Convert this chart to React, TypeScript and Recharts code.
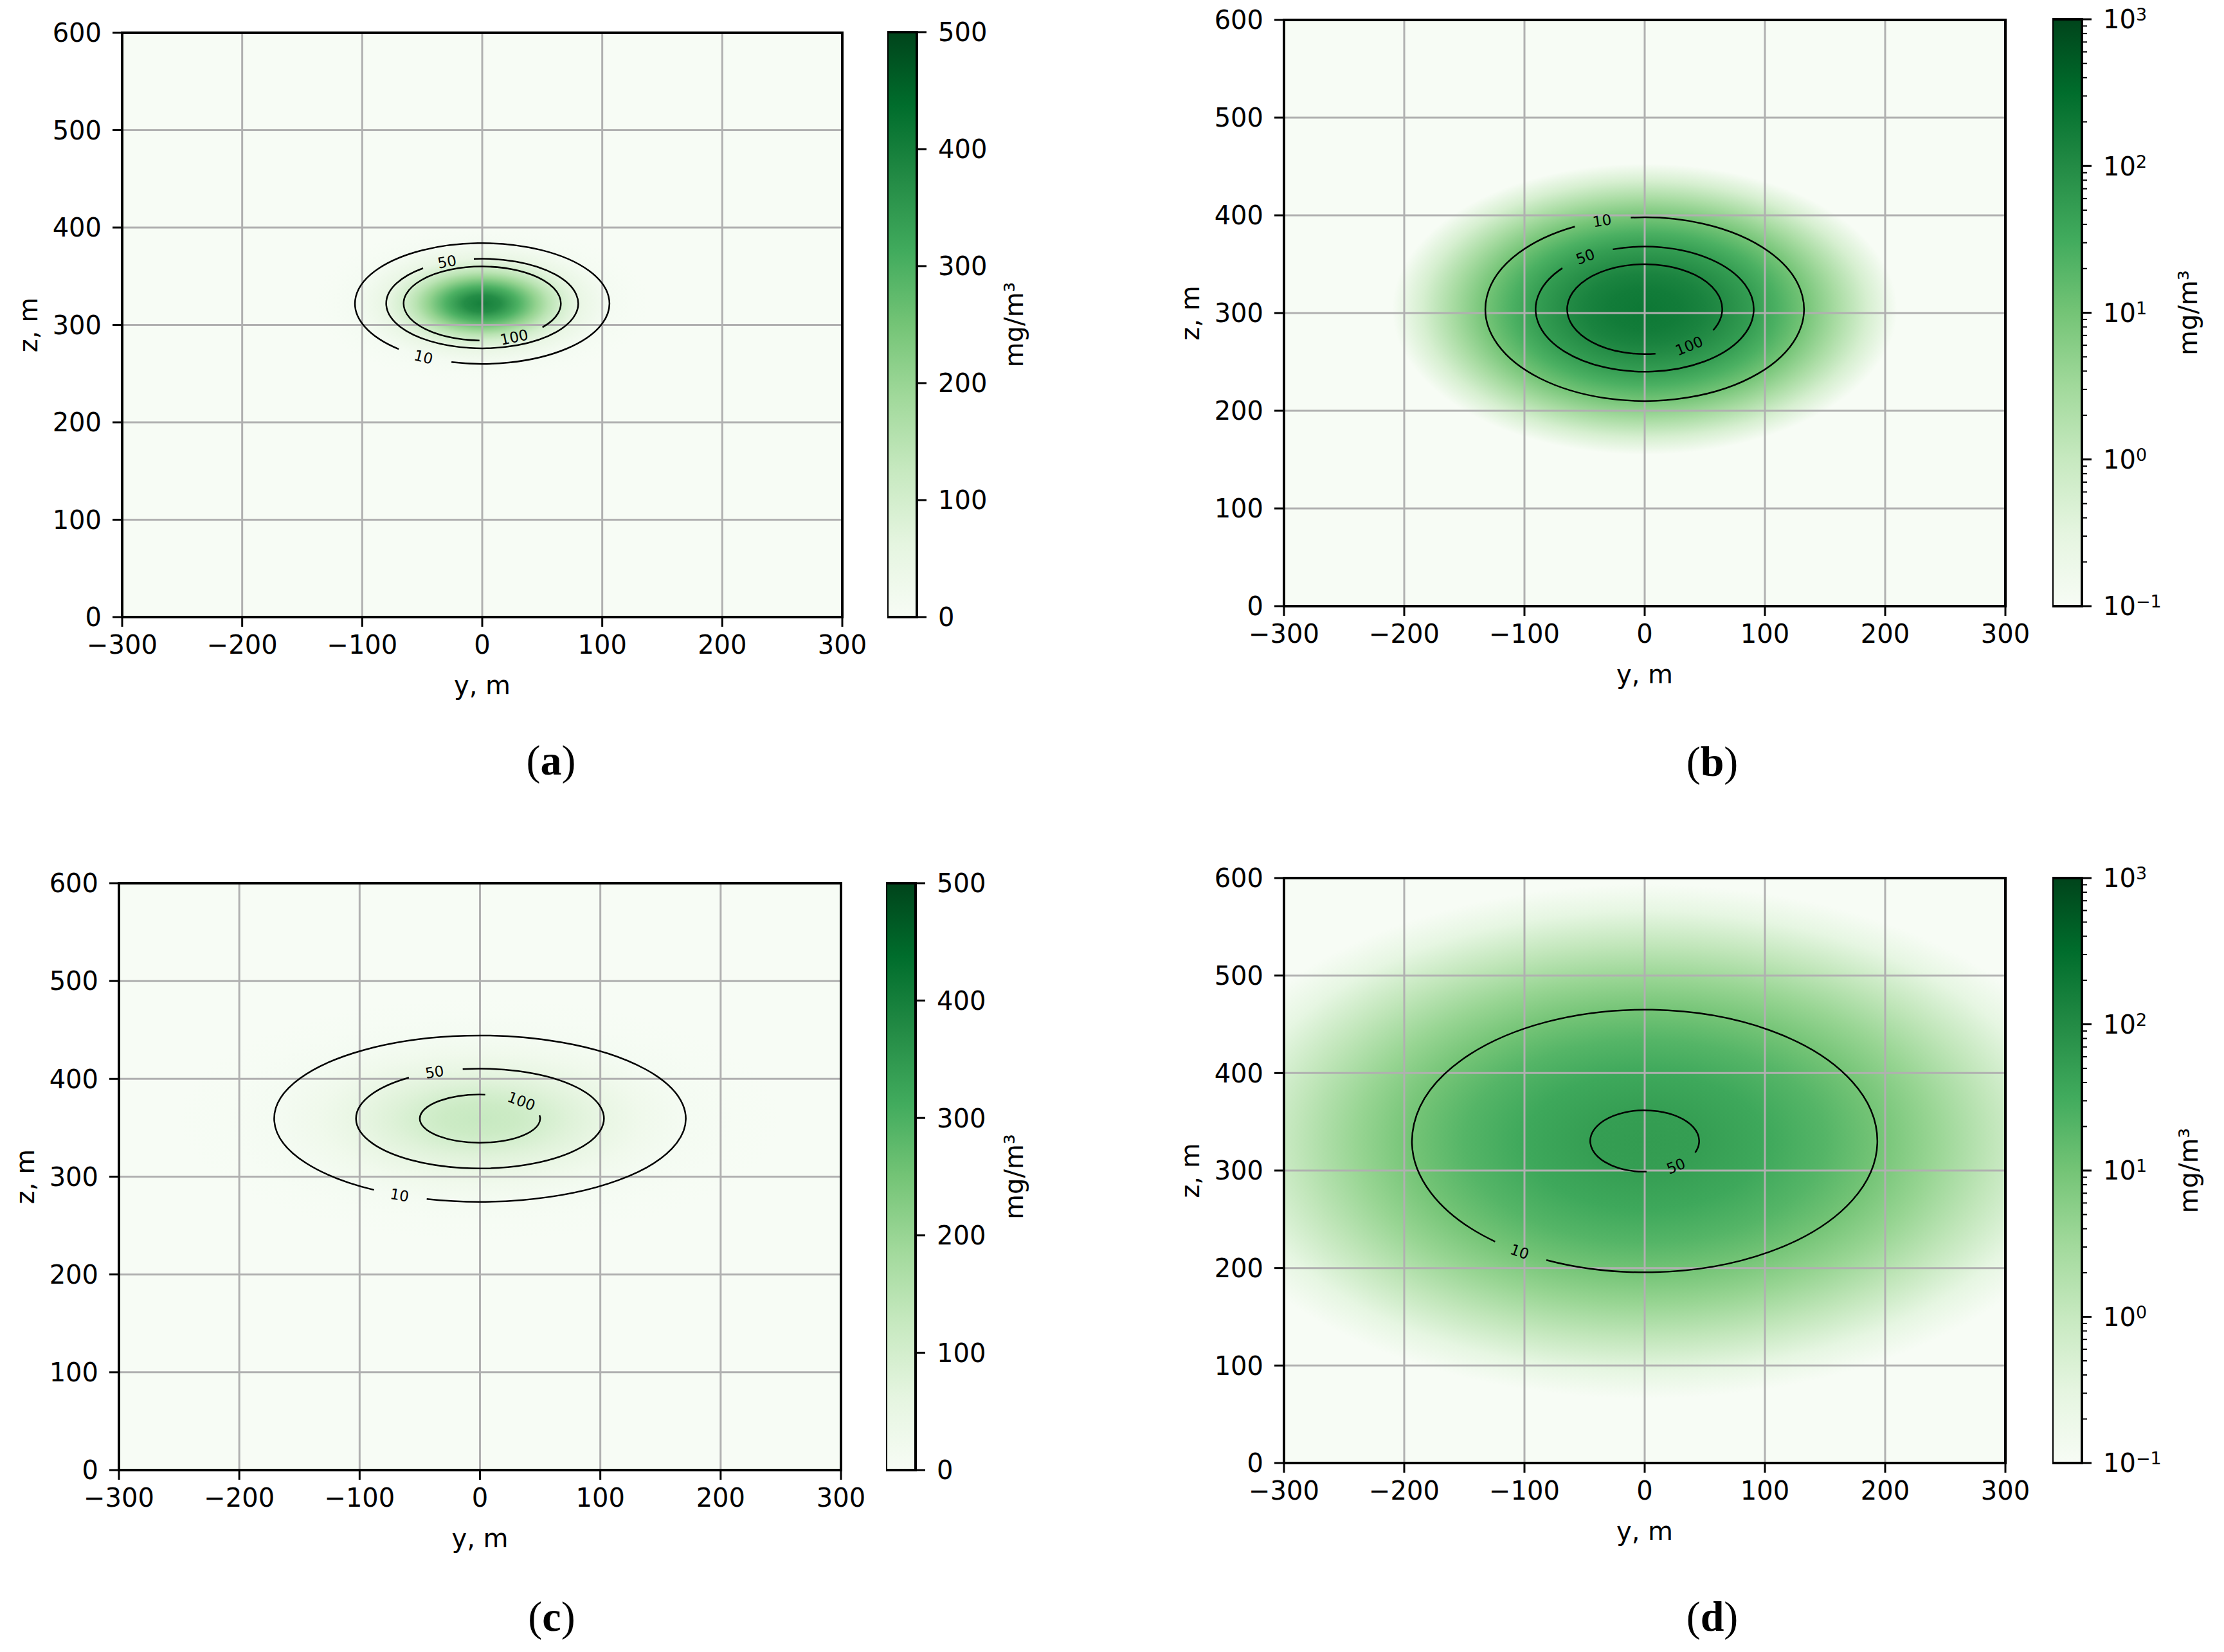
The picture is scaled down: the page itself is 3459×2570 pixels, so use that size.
import React from 'react';
import { ScatterChart, Scatter, XAxis, YAxis, ReferenceArea, ReferenceLine } from 'recharts';

// ---------- axis ticks ----------
const Y_TICKS = [-300, -200, -100, 0, 100, 200, 300];
const Z_TICKS = [0, 100, 200, 300, 400, 500, 600];
const LIN_TICKS = [0, 100, 200, 300, 400, 500];
const LOG_MAJOR = [0.1, 1, 10, 100, 1000];
const LOG_MINOR = [0.2, 0.3, 0.4, 0.5, 0.6, 0.7, 0.8, 0.9, 2, 3, 4, 5, 6, 7, 8, 9, 20, 30, 40, 50, 60, 70, 80, 90, 200, 300, 400, 500, 600, 700, 800, 900];
const LIN_RANGE = [0, 500];
const LOG_RANGE = [0.1, 1000];

// ---------- panel (a) ----------
const plumeA = { y: 0, z: 322, aspect: 1.72 };
const profileA = [
  { r: 0, c: 400 }, { r: 15, c: 372 }, { r: 30, c: 298 }, { r: 45, c: 206 }, { r: 55, c: 148 },
  { r: 65, c: 100 }, { r: 80, c: 50 }, { r: 106, c: 10 }, { r: 125, c: 2.4 }, { r: 140, c: 0.6 }, { r: 160, c: 0 },
];
const contoursA = [
  { level: 10, y: 0, z: 322, ay: 106, az: 62, gap: [104, 131] },
  { level: 50, y: 0, z: 322, ay: 80, az: 46, gap: [232, 265] },
  { level: 100, y: 0, z: 322, ay: 65.5, az: 38, gap: [40, 92] },
];

// ---------- panel (b) ----------
const plumeB = { y: 0, z: 304, aspect: 1.41 };
const profileB = [
  { r: 0, c: 205 }, { r: 30, c: 176 }, { r: 50, c: 134 }, { r: 64.5, c: 100 }, { r: 90.7, c: 50 },
  { r: 110, c: 25 }, { r: 132.5, c: 10 }, { r: 160, c: 2.5 }, { r: 185, c: 0.57 }, { r: 210, c: 0.1 }, { r: 260, c: 0 },
];
const contoursB = [
  { level: 10, y: 0, z: 304, ay: 132.5, az: 94, gap: [244, 265] },
  { level: 50, y: 0, z: 304, ay: 90.7, az: 64, gap: [221, 253] },
  { level: 100, y: 0, z: 304, ay: 64.5, az: 46, gap: [28, 82] },
];

// ---------- panel (c) ----------
const plumeC = { y: 0, z: 359, aspect: 2.02 };
const profileC = [
  { r: 0, c: 124 }, { r: 30, c: 115 }, { r: 50, c: 100 }, { r: 75, c: 76 }, { r: 103, c: 50 },
  { r: 135, c: 26 }, { r: 171, c: 10 }, { r: 210, c: 2.8 }, { r: 250, c: 0.6 }, { r: 300, c: 0 },
];
const contoursC = [
  { level: 10, y: 0, z: 359.3, ay: 171, az: 85, gap: [105, 121] },
  { level: 50, y: 0, z: 359.4, ay: 103, az: 51, gap: [235, 262] },
  { level: 100, y: 0, z: 359.3, ay: 50, az: 24.6, gap: [275, 352] },
];

// ---------- panel (d) ----------
const plumeD = { y: 0, z: 330, aspect: 1.44 };
const profileD = [
  { r: 0, c: 55 }, { r: 45.3, c: 50 }, { r: 100, c: 35 }, { r: 150, c: 20 }, { r: 193.5, c: 10 },
  { r: 240, c: 4 }, { r: 290, c: 1.2 }, { r: 340, c: 0.29 }, { r: 380, c: 0.08 }, { r: 420, c: 0 },
];
const contoursD = [
  { level: 10, y: 0, z: 330.3, ay: 193.5, az: 134.7, gap: [115, 130] },
  { level: 50, y: 0, z: 330.3, ay: 45.3, az: 31.5, gap: [22, 88] },
];

// ---------- colormap (matplotlib Greens) ----------
const GREENS = ['#f7fcf5', '#e5f5e0', '#c7e9c0', '#a1d99b', '#74c476', '#41ab5d', '#238b45', '#006d2c', '#00441b'];
const hexRgb = (h: string) => [parseInt(h.slice(1, 3), 16), parseInt(h.slice(3, 5), 16), parseInt(h.slice(5, 7), 16)];
function greens(t: number) {
  const tt = Math.max(0, Math.min(1, t));
  const p = tt * (GREENS.length - 1);
  const i = Math.min(Math.floor(p), GREENS.length - 2);
  const f = p - i;
  const a = hexRgb(GREENS[i]);
  const b = hexRgb(GREENS[i + 1]);
  const m = a.map((v, k) => Math.round(v + (b[k] - v) * f));
  return `rgb(${m[0]},${m[1]},${m[2]})`;
}

const FONT = 'DejaVu Sans';
const minus = (v: number) => (v < 0 ? `\u2212${Math.abs(v)}` : `${v}`);

function BgShape(props: any) {
  const { x, y, width, height, cid } = props;
  return (
    <g>
      <defs>
        <clipPath id={cid}>
          <rect x={x} y={y} width={width} height={height} />
        </clipPath>
      </defs>
      <rect x={x} y={y} width={width} height={height} fill={GREENS[0]} />
    </g>
  );
}

function HeatShape(props: any) {
  const { x, y, width, height, gid, cid, stops } = props;
  return (
    <g clipPath={`url(#${cid})`}>
      <defs>
        <radialGradient id={gid} cx="50%" cy="50%" r="50%">
          {stops.map((s: any, i: number) => (
            <stop key={i} offset={s.off} stopColor={s.color} />
          ))}
        </radialGradient>
      </defs>
      <ellipse cx={x + width / 2} cy={y + height / 2} rx={Math.abs(width) / 2} ry={Math.abs(height) / 2} fill={`url(#${gid})`} />
    </g>
  );
}

function ContourShape(props: any) {
  const { x, y, width, height, c } = props;
  const cx = x + width / 2;
  const cy = y + height / 2;
  const rx = Math.abs(width) / 2;
  const ry = Math.abs(height) / 2;
  const rad = (d: number) => (d * Math.PI) / 180;
  const pt = (t: number) => [cx + rx * Math.cos(rad(t)), cy + ry * Math.sin(rad(t))];
  const [g1, g2] = c.gap;
  const [sx, sy] = pt(g2);
  const [ex, ey] = pt(g1);
  const d = `M${sx},${sy} A${rx},${ry} 0 1 1 ${ex},${ey}`;
  const tm = (g1 + g2) / 2;
  const [lx, ly] = pt(tm);
  let ang = (Math.atan2(ry * Math.cos(rad(tm)), -rx * Math.sin(rad(tm))) * 180) / Math.PI;
  if (ang > 90) ang -= 180;
  if (ang < -90) ang += 180;
  return (
    <g>
      <path d={d} fill="none" stroke="#000" strokeWidth={2.5} />
      <text x={lx} y={ly} transform={`rotate(${ang} ${lx} ${ly})`} textAnchor="middle" dominantBaseline="central" fontSize={23} fill="#000" fontFamily={FONT}>
        {c.level}
      </text>
    </g>
  );
}

function Plot(props: any) {
  const { id, L, T, W, H, plume, profile, contours, norm } = props;
  const rMax = profile[profile.length - 1].r;
  const colorOf = (c: number) =>
    greens(norm === 'log' ? (c <= 0.1 ? 0 : (Math.log10(c) + 1) / 4) : c / 500);
  const stops = profile.map((p: any) => ({ off: p.r / rMax, color: colorOf(p.c) }));
  const ML = 190, MT = 40, MR = 60, XH = 140;
  const tickStyle = { fontSize: 40, fill: '#000', fontFamily: FONT };
  const cid = `clip-${id}`;
  return (
    <div style={{ position: 'absolute', left: L - ML, top: T - MT }}>
      <ScatterChart width={ML + W + MR} height={MT + H + XH} margin={{ top: MT, right: MR, bottom: 0, left: 0 }}>
        <XAxis
          type="number" dataKey="y" domain={[-300, 300]} ticks={Y_TICKS} interval={0} allowDataOverflow
          tickFormatter={minus} tick={tickStyle} tickLine={{ stroke: '#000', strokeWidth: 3 }}
          tickSize={15} tickMargin={14} axisLine={false} height={XH}
          label={{ value: 'y, m', position: 'insideBottom', offset: 20, fontSize: 40, fill: '#000', fontFamily: FONT }}
        />
        <YAxis
          type="number" dataKey="z" domain={[0, 600]} ticks={Z_TICKS} interval={0} allowDataOverflow
          tick={tickStyle} tickLine={{ stroke: '#000', strokeWidth: 3 }}
          tickSize={15} tickMargin={17} axisLine={false} width={ML}
          label={{ value: 'z, m', angle: -90, position: 'insideLeft', offset: 44, fontSize: 40, fill: '#000', fontFamily: FONT, style: { textAnchor: 'middle' } }}
        />
        <ReferenceArea x1={-300} x2={300} y1={0} y2={600} ifOverflow="hidden" zIndex={10}
          shape={(p: any) => <BgShape {...p} cid={cid} />} />
        <ReferenceArea
          x1={plume.y - rMax} x2={plume.y + rMax}
          y1={plume.z - rMax / plume.aspect} y2={plume.z + rMax / plume.aspect}
          ifOverflow="hidden" zIndex={20}
          shape={(p: any) => <HeatShape {...p} gid={`heat-${id}`} cid={cid} stops={stops} />}
        />
        {Y_TICKS.slice(1, -1).map((v) => (
          <ReferenceLine key={`gx${v}`} x={v} stroke="#b0b0b0" strokeWidth={3} zIndex={30} />
        ))}
        {Z_TICKS.slice(1, -1).map((v) => (
          <ReferenceLine key={`gy${v}`} y={v} stroke="#b0b0b0" strokeWidth={3} zIndex={30} />
        ))}
        {contours.map((c: any) => (
          <ReferenceArea
            key={`c${c.level}`}
            x1={c.y - c.ay} x2={c.y + c.ay} y1={c.z - c.az} y2={c.z + c.az}
            ifOverflow="hidden" zIndex={450}
            shape={(p: any) => <ContourShape {...p} c={c} />}
          />
        ))}
        <ReferenceArea x1={-300} x2={300} y1={0} y2={600} fill="none" stroke="#000" strokeWidth={4} ifOverflow="visible" zIndex={800} />
        <Scatter data={[plume]} isAnimationActive={false} shape={() => <g />} />
      </ScatterChart>
    </div>
  );
}

function CbGrad(props: any) {
  const { x, y, width, height, gid } = props;
  return (
    <g>
      <defs>
        <linearGradient id={gid} x1="0" y1="1" x2="0" y2="0">
          {GREENS.map((c, i) => (
            <stop key={i} offset={i / (GREENS.length - 1)} stopColor={c} />
          ))}
        </linearGradient>
      </defs>
      <rect x={x} y={y} width={width} height={height} fill={`url(#${gid})`} />
    </g>
  );
}

function CbTick(props: any) {
  const { x, y, payload, isLog } = props;
  const v = payload.value;
  const major = !isLog || LOG_MAJOR.includes(v);
  const len = major ? 15 : 8;
  const exp = isLog ? Math.round(Math.log10(v)) : 0;
  return (
    <g>
      <line x1={x} y1={y} x2={x + len} y2={y} stroke="#000" strokeWidth={major ? 3 : 2} />
      {major && !isLog && (
        <text x={x + 33} y={y} dy="0.36em" fontSize={40} fill="#000" fontFamily={FONT}>{v}</text>
      )}
      {major && isLog && (
        <text x={x + 33} y={y} dy="0.36em" fontSize={40} fill="#000" fontFamily={FONT}>
          10<tspan dy={-12} fontSize={27}>{minus(exp)}</tspan>
        </text>
      )}
    </g>
  );
}

function Colorbar(props: any) {
  const { id, L, T, H, kind, labelOffset } = props;
  const isLog = kind === 'log';
  const range = isLog ? LOG_RANGE : LIN_RANGE;
  const ticks = isLog ? [...LOG_MAJOR, ...LOG_MINOR].sort((a, b) => a - b) : LIN_TICKS;
  const cbData = [{ x: 0.5, v: range[0] }, { x: 0.5, v: range[1] }];
  const CW = 46, AW = 300, M = 40;
  return (
    <div style={{ position: 'absolute', left: L, top: T - M }}>
      <ScatterChart width={CW + AW} height={H + 2 * M} margin={{ top: M, bottom: M, left: 0, right: 0 }}>
        <XAxis type="number" dataKey="x" domain={[0, 1]} hide />
        <YAxis
          type="number" dataKey="v" orientation="right" domain={range} scale={isLog ? 'log' : 'linear'}
          ticks={ticks} interval={0} allowDataOverflow tickSize={0} tickMargin={0} tickLine={false} axisLine={false}
          width={AW}
          tick={(p: any) => <CbTick {...p} isLog={isLog} />}
          label={{ value: 'mg/m\u00B3', angle: -90, position: 'insideLeft', offset: labelOffset, fontSize: 40, fill: '#000', fontFamily: FONT, style: { textAnchor: 'middle' } }}
        />
        <ReferenceArea x1={0} x2={1} y1={range[0]} y2={range[1]} ifOverflow="visible" zIndex={10}
          shape={(p: any) => <CbGrad {...p} gid={`cb-${id}`} />} />
        <ReferenceArea x1={0} x2={1} y1={range[0]} y2={range[1]} fill="none" stroke="#000" strokeWidth={4} ifOverflow="visible" zIndex={800} />
        <Scatter data={cbData} isAnimationActive={false} shape={() => <g />} />
      </ScatterChart>
    </div>
  );
}

function PanelLabel({ letter, cx, cy }: any) {
  return (
    <div style={{ position: 'absolute', left: cx, top: cy, transform: 'translate(-50%, -50%)', fontFamily: 'Liberation Serif', fontSize: 66, lineHeight: 1, whiteSpace: 'nowrap', color: '#000' }}>
      (<b>{letter}</b>)
    </div>
  );
}

export default function App() {
  return (
    <div style={{ position: 'absolute', left: 0, top: 0, width: 3459, height: 2570, background: '#fff', fontFamily: FONT, overflow: 'hidden' }}>
      <Plot id="a" L={190} T={51} W={1120} H={909} plume={plumeA} profile={profileA} contours={contoursA} norm="lin" />
      <Colorbar id="a" L={1380} T={50} H={910} kind="lin" labelOffset={151} />
      <Plot id="b" L={1997} T={31} W={1122} H={912} plume={plumeB} profile={profileB} contours={contoursB} norm="log" />
      <Colorbar id="b" L={3192} T={30} H={913} kind="log" labelOffset={165} />
      <Plot id="c" L={185} T={1374} W={1123} H={913} plume={plumeC} profile={profileC} contours={contoursC} norm="lin" />
      <Colorbar id="c" L={1378} T={1374} H={913} kind="lin" labelOffset={153} />
      <Plot id="d" L={1997} T={1366} W={1122} H={910} plume={plumeD} profile={profileD} contours={contoursD} norm="log" />
      <Colorbar id="d" L={3192} T={1366} H={910} kind="log" labelOffset={166} />
      <PanelLabel letter="a" cx={857} cy={1183} />
      <PanelLabel letter="b" cx={2663} cy={1185} />
      <PanelLabel letter="c" cx={858} cy={2515} />
      <PanelLabel letter="d" cx={2663} cy={2515} />
    </div>
  );
}
